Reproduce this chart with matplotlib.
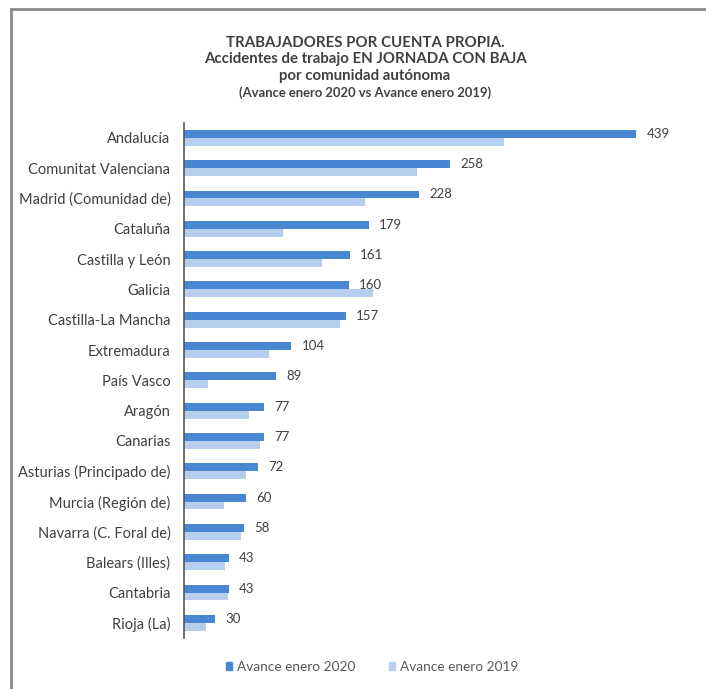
import numpy as np
import matplotlib.pyplot as plt
from matplotlib.patches import Patch
from matplotlib.lines import Line2D

plt.rcParams['font.family'] = ['Lato', 'DejaVu Sans']

regiones = ["Andalucía", "Comunitat Valenciana", "Madrid (Comunidad de)", "Cataluña",
            "Castilla y León", "Galicia", "Castilla-La Mancha", "Extremadura",
            "País Vasco", "Aragón", "Canarias", "Asturias (Principado de)",
            "Murcia (Región de)", "Navarra (C. Foral de)", "Balears (Illes)",
            "Cantabria", "Rioja (La)"]
avance_2020 = [439, 258, 228, 179, 161, 160, 157, 104, 89, 77, 77, 72, 60, 58, 43, 43, 30]
avance_2019 = [311, 226, 176, 96, 134, 183, 151, 82, 23, 63, 74, 60, 39, 55, 40, 42, 21]

c2020 = '#4a87d2'
c2019 = '#b7cfee'
txt = '#404040'

fig = plt.figure(figsize=(7.06, 6.89), dpi=100)
ax = fig.add_axes([0.261, 0.074, 0.70, 0.748])

y = np.arange(len(regiones))
h = 0.26
ax.barh(y - h / 2, avance_2020, height=h, color=c2020)
ax.barh(y + h / 2, avance_2019, height=h, color=c2019)

for yi, v in zip(y, avance_2020):
    ax.text(v + 10, yi - h / 2, str(v), va='center', ha='left', fontsize=9.5, color=txt)

ax.set_xlim(0, 480)
ax.set_ylim(16.5, -0.5)
ax.set_yticks(y)
ax.set_yticklabels(regiones, fontsize=10.5, color=txt)
ax.tick_params(axis='y', length=0, pad=10)
ax.set_xticks([])
for s in ['top', 'right', 'bottom']:
    ax.spines[s].set_visible(False)
ax.spines['left'].set_color('#555555')
ax.spines['left'].set_linewidth(1.2)

fig.text(0.517, 0.938, "TRABAJADORES POR CUENTA PROPIA.", ha='center', va='center',
         fontsize=10.8, fontweight='bold', color=txt)
fig.text(0.517, 0.914, "Accidentes de trabajo EN JORNADA CON BAJA", ha='center', va='center',
         fontsize=10.8, fontweight='bold', color=txt)
fig.text(0.517, 0.890, "por comunidad autónoma", ha='center', va='center',
         fontsize=10.8, fontweight='bold', color=txt)
fig.text(0.517, 0.866, "(Avance enero 2020 vs Avance enero 2019)", ha='center', va='center',
         fontsize=9.4, fontweight='bold', color=txt)

handles = [Patch(color=c2020, label='Avance enero 2020'),
           Patch(color=c2019, label='Avance enero 2019')]
fig.legend(handles=handles, loc='center', bbox_to_anchor=(0.527, 0.032), ncol=2,
           frameon=False, fontsize=9.8, handlelength=0.45, handleheight=0.45,
           handletextpad=0.35, columnspacing=2.5, labelcolor='#595959')

# frame lines of the original screenshot
fig.add_artist(Line2D([0.0155, 1.0], [0.987, 0.987], transform=fig.transFigure,
                      color='#8a8a8a', lw=2))
fig.add_artist(Line2D([0.0155, 0.0155], [0.0, 0.987], transform=fig.transFigure,
                      color='#8a8a8a', lw=2))

fig.savefig('out.png', dpi=100)
